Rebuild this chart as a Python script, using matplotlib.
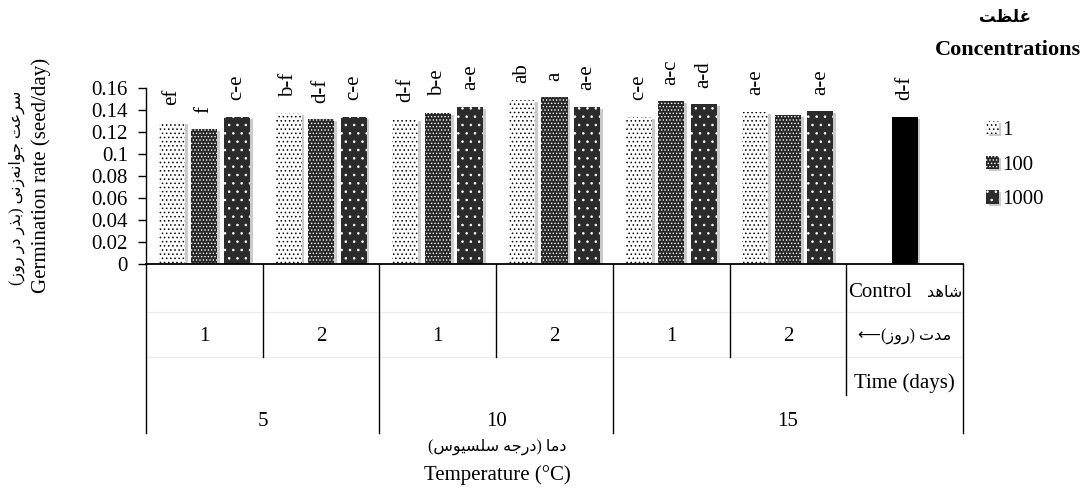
import matplotlib
matplotlib.use("Agg")
import matplotlib.pyplot as plt
import matplotlib.patheffects as pe
import numpy as np

# germination rate (seed/day) for each temperature x exposure-time group
days = ["1", "2", "1", "2", "1", "2"]
temps = ["5", "10", "15"]
conc_labels = ["1", "100", "1000"]
rate_1 = [0.1296, 0.1373, 0.1324, 0.1494, 0.1339, 0.1385]
rate_100 = [0.1227, 0.1318, 0.1375, 0.1518, 0.1482, 0.1355]
rate_1000 = [0.1339, 0.1339, 0.1433, 0.1433, 0.1455, 0.1391]
control_rate = 0.1342

# mean-separation letters
letters_1 = ["ef", "b-f", "d-f", "ab", "c-e", "a-e"]
letters_100 = ["f", "d-f", "b-e", "a", "a-c", ""]
letters_1000 = ["c-e", "c-e", "a-e", "a-e", "a-d", "a-e"]
control_letter = "d-f"

# Persian presentation forms: isolated, final, initial, medial
FORMS = {
    '\u0627': (0xFE8D, 0xFE8E),                  # alef
    '\u0628': (0xFE8F, 0xFE90, 0xFE91, 0xFE92),  # beh
    '\u062A': (0xFE95, 0xFE96, 0xFE97, 0xFE98),  # teh
    '\u062C': (0xFE9D, 0xFE9E, 0xFE9F, 0xFEA0),  # jeem
    '\u062F': (0xFEA9, 0xFEAA),                  # dal
    '\u0630': (0xFEAB, 0xFEAC),                  # thal
    '\u0631': (0xFEAD, 0xFEAE),                  # reh
    '\u0632': (0xFEAF, 0xFEB0),                  # zain
    '\u0633': (0xFEB1, 0xFEB2, 0xFEB3, 0xFEB4),  # seen
    '\u0634': (0xFEB5, 0xFEB6, 0xFEB7, 0xFEB8),  # sheen
    '\u0638': (0xFEC5, 0xFEC6, 0xFEC7, 0xFEC8),  # zah
    '\u0639': (0xFEC9, 0xFECA, 0xFECB, 0xFECC),  # ain
    '\u063A': (0xFECD, 0xFECE, 0xFECF, 0xFED0),  # ghain
    '\u0644': (0xFEDD, 0xFEDE, 0xFEDF, 0xFEE0),  # lam
    '\u0645': (0xFEE1, 0xFEE2, 0xFEE3, 0xFEE4),  # meem
    '\u0646': (0xFEE5, 0xFEE6, 0xFEE7, 0xFEE8),  # noon
    '\u0647': (0xFEE9, 0xFEEA, 0xFEEB, 0xFEEC),  # heh
    '\u0648': (0xFEED, 0xFEEE),                  # waw
    '\u06CC': (0xFEEF, 0xFEF0, 0xFEF3, 0xFEF4),  # farsi yeh
}


def fa(text):
    """shape Persian letters and put them in visual (left to right) order"""
    out = []
    for i, ch in enumerate(text):
        forms = FORMS.get(ch)
        if forms is None:
            if ch != '\u200c':
                out.append(ch)
            continue
        prev = text[i - 1] if i > 0 else ''
        nxt = text[i + 1] if i + 1 < len(text) else ''
        join_prev = len(FORMS.get(prev, ())) == 4
        join_next = len(forms) == 4 and nxt in FORMS
        if join_next:
            idx = 3 if join_prev else 2
        else:
            idx = 1 if join_prev else 0
        out.append(chr(forms[idx]))
    mirror = {'(': ')', ')': '('}
    return ''.join(mirror.get(c, c) for c in reversed(out))


plt.rcParams['font.family'] = ['Liberation Serif', 'DejaVu Sans']
plt.rcParams['hatch.linewidth'] = 0.6
FS = 15
FS_FA = 11.5

fig = plt.figure(figsize=(10.85, 4.88), dpi=100)
ax = fig.add_axes([146 / 1085, 1 - 264.3 / 488, 817 / 1085, 176 / 488])

x = np.arange(len(days))
w = 0.223
off = 0.2785
shadow = [pe.SimplePatchShadow(offset=(2, -1.5), shadow_rgbFace='0.55', alpha=0.45, hatch=None),
          pe.Normal()]

styles = [dict(facecolor='white', edgecolor='black', hatch='....'),
          dict(facecolor='#262626', edgecolor='white', hatch='.....'),
          dict(facecolor='#2b2b2b', edgecolor='white', hatch='..')]
series = [rate_1, rate_100, rate_1000]
letters = [letters_1, letters_100, letters_1000]

handles = []
for k, (vals, st, lab) in enumerate(zip(series, styles, letters)):
    bars = ax.bar(x + (k - 1) * off, vals, w, linewidth=0, label=conc_labels[k], **st)
    for b in bars:
        b.set_path_effects(shadow)
    handles.append(bars)
    for xi, v, t in zip(x + (k - 1) * off, vals, lab):
        ax.annotate(t, (xi, v), xytext=(0, 12), textcoords='offset points',
                    rotation=90, ha='center', va='bottom', fontsize=FS)

cb = ax.bar([6], [control_rate], w, facecolor='black', linewidth=0)
cb[0].set_path_effects(shadow)
ax.annotate(control_letter, (6, control_rate), xytext=(0, 12), textcoords='offset points',
            rotation=90, ha='center', va='bottom', fontsize=FS)

ax.set_xlim(-0.5, 6.5)
ax.set_ylim(0, 0.16)
ax.set_yticks(np.arange(0, 0.161, 0.02))
ax.set_yticklabels([f"{v:g}" for v in np.arange(0, 0.161, 0.02)])
ax.set_xticks([])
ax.tick_params(axis='y', length=6, width=1, pad=7, labelsize=FS)
for s in ['top', 'right']:
    ax.spines[s].set_visible(False)
ax.spines['left'].set_linewidth(1)
ax.spines['bottom'].set_linewidth(1.3)

# multi-level category axis below the bars
tr = ax.get_xaxis_transform()
line_kw = dict(transform=tr, clip_on=False, color='black', lw=1)
for yy in [-0.27, -0.525]:
    ax.plot([-0.5, 6.5], [yy, yy], transform=tr, clip_on=False, color='#ececec', lw=0.8)
for xb in [-0.5, 1.5, 3.5, 6.5]:
    ax.plot([xb, xb], [0, -0.96], **line_kw)
for xb in [0.5, 2.5, 4.5]:
    ax.plot([xb, xb], [0, -0.525], **line_kw)
ax.plot([5.5, 5.5], [0, -0.745], **line_kw)

for xi, d in zip(x, days):
    ax.text(xi, -0.413, d, transform=tr, ha='center', va='center', fontsize=FS)
for xt, t in zip([0.5, 2.5, 5.0], temps):
    ax.text(xt, -0.896, t, transform=tr, ha='center', va='center', fontsize=FS)

# control column labels
ax.text(5.52, -0.163, "Control", transform=tr, ha='left', va='center', fontsize=FS)
ax.text(6.49, -0.163, fa("شاهد"), transform=tr, ha='right', va='center', fontsize=FS_FA)
ax.text(6, -0.413, "\u27f5" + fa("مدت (روز)"), transform=tr, ha='center', va='center', fontsize=FS_FA)
ax.text(6, -0.674, "Time (days)", transform=tr, ha='center', va='center', fontsize=FS)

# axis titles
fig.text(497 / 1085, 1 - 447 / 488, fa("دما (درجه سلسیوس)"), ha='center', va='center', fontsize=FS_FA)
fig.text(497 / 1085, 1 - 475 / 488, "Temperature (°C)", ha='center', va='center', fontsize=FS)
fig.text(41 / 1085, 1 - 175 / 488, "Germination rate (seed/day)", rotation=90,
         ha='center', va='center', fontsize=FS)
fig.text(17 / 1085, 1 - 188 / 488, fa("سرعت جوانه‌زنی (بذر در روز)"), rotation=90,
         ha='center', va='center', fontsize=FS_FA)

# legend
fig.text(1005 / 1085, 1 - 18 / 488, fa("غلظت"), ha='center', va='center', fontsize=12, fontweight='bold')
fig.text(1008 / 1085, 1 - 50 / 488, "Concentrations", ha='center', va='center', fontsize=16, fontweight='bold')
fig.legend(handles=handles, labels=conc_labels, loc='upper left', bbox_to_anchor=(986 / 1085, 1 - 121 / 488),
           frameon=False, fontsize=FS, handlelength=0.6, handleheight=0.6, handletextpad=0.2,
           labelspacing=0.75, borderpad=0, borderaxespad=0)

fig.savefig("out.png", dpi=100)
